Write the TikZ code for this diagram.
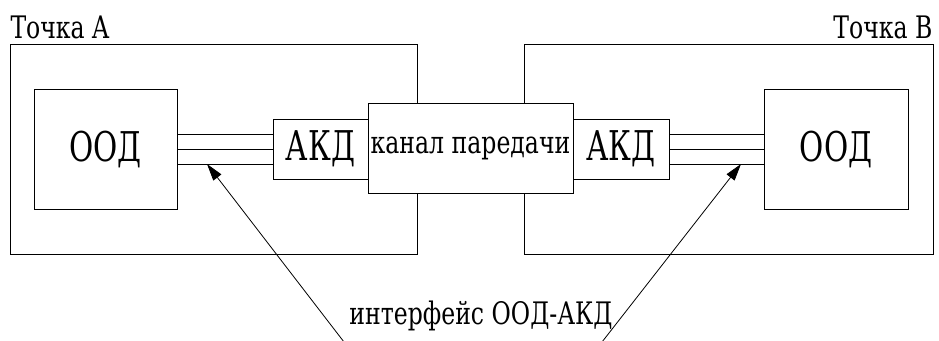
\documentclass[tikz,border=0pt]{standalone}
\usepackage{fontspec}
\setmainfont{DejaVu Serif}
\usetikzlibrary{arrows.meta,calc}
\newcommand{\cond}[1]{\scalebox{0.72}[1]{#1}}
\newcommand{\condl}[1]{\scalebox{0.76}[1]{#1}}
\begin{document}
\begin{tikzpicture}[x=1pt,y=-1pt,line width=1pt,
  box/.style={draw,rectangle,inner sep=0pt,fill=white},
  big/.style={font=\fontsize{41}{41}\selectfont},
  lbl/.style={font=\fontsize{31}{31}\selectfont,inner sep=0pt},
  ptr/.style={-{Triangle[length=17pt,width=10pt]},line width=0.8pt}]
\useasboundingbox (0,0) rectangle (939,340);
\node[box,minimum width=407pt,minimum height=210pt] (outA) at (213.5,149) {};
\node[box,minimum width=409pt,minimum height=210pt] (outB) at (728.5,149) {};
\node[box,big,minimum width=143pt,minimum height=120pt] (oodA) at (105.5,149) {\cond{ООД}};
\node[box,big,minimum width=144pt,minimum height=120pt] (oodB) at (836,149) {\cond{ООД}};
\node[box,big,minimum width=95pt,minimum height=60pt] (akdA) at (320.5,149) {\cond{АКД}};
\node[box,big,minimum width=96pt,minimum height=60pt] (akdB) at (621,149) {\cond{АКД}};
\node[box,lbl,minimum width=205pt,minimum height=90pt] (chan) at (470.5,148) {\condl{канал паредачи}};
\foreach \d in {-15,0,15}{
  \draw ($(oodA.east)+(0,\d)$) -- ($(akdA.west)+(0,\d)$);
  \draw ($(akdB.east)+(0,\d)$) -- ($(oodB.west)+(0,\d)$);
}
\node[lbl,anchor=base west] (tA) at (10,38) {\condl{Точка A}};
\node[lbl,anchor=base east] (tB) at (933,38) {\condl{Точка B}};
\node[lbl,anchor=base] (iface) at (481,324) {\condl{интерфейс ООД-АКД}};
\coordinate (tipA) at (207,164);
\coordinate (tipB) at (741,164);
\coordinate (srcA) at (344,342);
\coordinate (srcB) at (602,342);
\draw[ptr] (srcA) -- (tipA);
\draw[ptr] (srcB) -- (tipB);
\end{tikzpicture}
\end{document}
